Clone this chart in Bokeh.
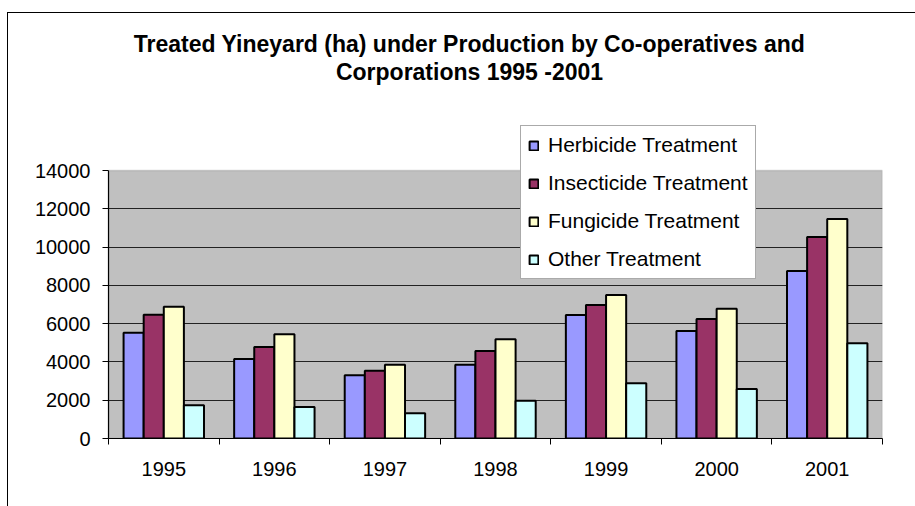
import numpy as np
from bokeh.plotting import figure
from bokeh.models import (Range1d, FixedTicker, Legend, LegendItem, Label,
                          ColumnDataSource, BoxAnnotation, InlineStyleSheet)
from bokeh.transform import dodge
from bokeh.embed import file_html
from bokeh.resources import INLINE

# ---- data ----
years = ["1995", "1996", "1997", "1998", "1999", "2000", "2001"]
herbicide = [5530, 4150, 3310, 3850, 6450, 5610, 8750]
insecticide = [6460, 4780, 3540, 4570, 6970, 6240, 10530]
fungicide = [6880, 5440, 3850, 5190, 7490, 6780, 11470]
other = [1740, 1640, 1320, 1970, 2890, 2580, 4980]
series_names = ["Herbicide Treatment", "Insecticide Treatment",
                "Fungicide Treatment", "Other Treatment"]
series_colors = ["#9999FF", "#993366", "#FFFFCC", "#CCFFFF"]
y_ticks = [0, 2000, 4000, 6000, 8000, 10000, 12000, 14000]
title_lines = ["Treated Yineyard (ha) under Production by Co-operatives and",
               "Corporations 1995 -2001"]

FONT = "Liberation Sans"
W, H = 915, 506
Y_MAX = 14000
PLOT_TOP_PX, AXIS_PX = 170, 438   # pixel rows of the 14000 line and the x axis

n = len(years)
centers = [i + 0.5 for i in range(n)]
src = ColumnDataSource(dict(xc=centers, herb=herbicide, ins=insecticide,
                            fun=fungicide, oth=other))

# frame reaches the top of the canvas so title & legend can sit inside it
y_end = Y_MAX * AXIS_PX / (AXIS_PX - PLOT_TOP_PX)

p = figure(width=W, height=H, output_backend="svg", toolbar_location=None,
           x_range=Range1d(0, n), y_range=Range1d(0, y_end),
           min_border_left=108, min_border_right=33,
           min_border_top=0, min_border_bottom=H - AXIS_PX)
p.background_fill_color = "white"
p.border_fill_color = "white"
p.outline_line_color = None

# outer chart-area border (top & left edges visible, rest runs off the page)
p.stylesheets = [InlineStyleSheet(css="""
:host { position: relative; }
:host::after {
  content: ""; position: absolute; left: 7px; top: 12px; right: 0; bottom: 0;
  border-left: 1.5px solid #000; border-top: 1.5px solid #000;
  pointer-events: none; z-index: 5;
}
""")]

# grey plot area
p.add_layout(BoxAnnotation(bottom=0, top=Y_MAX, fill_color="#C0C0C0", fill_alpha=1,
                           line_color="#808080", line_width=1.5, level="image"))

bw = 1 / 5.5
offsets = [-1.5 * bw, -0.5 * bw, 0.5 * bw, 1.5 * bw]
cols = ["herb", "ins", "fun", "oth"]
renderers = []
for col, off, color in zip(cols, offsets, series_colors):
    r = p.vbar(x=dodge("xc", off), top=col, width=bw, source=src,
               fill_color=color, line_color="black", line_width=2)
    renderers.append(r)

# grid
p.xgrid.grid_line_color = None
p.ygrid.grid_line_color = "#222222"
p.ygrid.grid_line_width = 1
p.ygrid.ticker = FixedTicker(ticks=y_ticks[1:-1])

# y axis
ya = p.yaxis[0]
ya.ticker = FixedTicker(ticks=y_ticks)
ya.bounds = (0, Y_MAX)
ya.axis_line_color = "black"
ya.axis_line_width = 1.2
ya.major_tick_out = 6
ya.major_tick_in = 0
ya.major_tick_line_color = "black"
ya.minor_tick_line_color = None
ya.major_label_text_font = FONT
ya.major_label_text_font_size = "20px"
ya.major_label_text_color = "black"
ya.major_label_standoff = 12

# x axis
xa = p.xaxis[0]
xa.ticker = FixedTicker(ticks=centers, minor_ticks=list(range(n + 1)))
xa.major_label_overrides = {c: y for c, y in zip(centers, years)}
xa.axis_line_color = "black"
xa.axis_line_width = 1.2
xa.major_tick_line_color = None
xa.minor_tick_line_color = "black"
xa.minor_tick_out = 6
xa.minor_tick_in = 0
xa.major_label_text_font = FONT
xa.major_label_text_font_size = "20px"
xa.major_label_text_color = "black"
xa.major_label_standoff = 17

# legend
legend = Legend(items=[LegendItem(label=nm, renderers=[r])
                       for nm, r in zip(series_names, renderers)],
                location=(412, 159), orientation="vertical")
legend.label_text_font = FONT
legend.label_text_font_size = "21px"
legend.label_text_color = "black"
legend.glyph_width = 11
legend.glyph_height = 11
legend.label_standoff = 9
legend.label_height = 24
legend.spacing = 14
legend.padding = 7
legend.margin = 0
legend.border_line_color = "#555555"
legend.border_line_width = 1
legend.background_fill_color = "white"
legend.background_fill_alpha = 1.0
p.add_layout(legend, "center")

# title (two lines)
for i, t in enumerate(title_lines):
    p.add_layout(Label(x=469, y=43 + 28.5 * i, x_units="canvas", y_units="canvas",
                       text=t, text_align="center", text_baseline="alphabetic",
                       text_font=FONT, text_font_size="23px",
                       text_font_style="bold", text_color="black"))

open("out.html", "w").write(file_html(p, INLINE))
